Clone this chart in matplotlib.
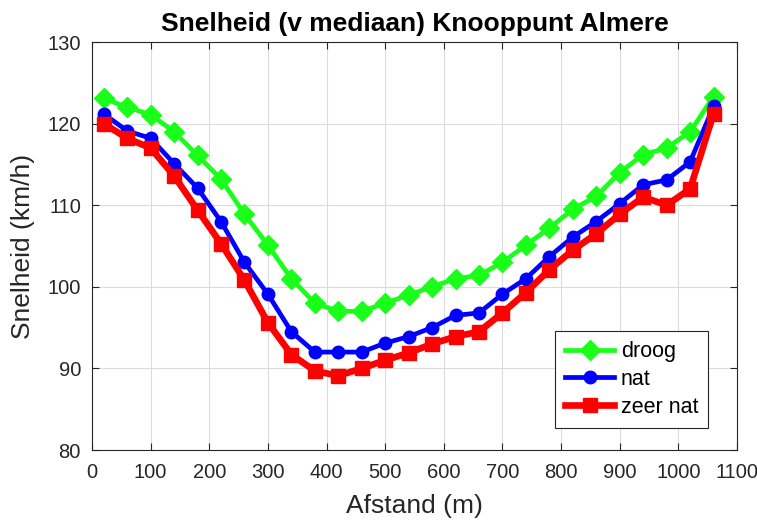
import matplotlib
matplotlib.use("Agg")
import matplotlib.pyplot as plt

plt.rcParams['font.family'] = ['Liberation Sans', 'DejaVu Sans']

# Afstand langs het knooppunt (m)
afstand = [20, 60, 100, 140, 180, 220, 260, 300, 340, 380, 420, 460, 500, 540,
           580, 620, 660, 700, 740, 780, 820, 860, 900, 940, 980, 1020, 1060]

# Mediane snelheid (km/h) per weersomstandigheid
droog = [123.1, 122.0, 121.1, 119.0, 116.1, 113.2, 108.9, 105.1, 101.0, 98.0,
         97.0, 97.0, 98.0, 99.0, 100.0, 101.0, 101.4, 103.0, 105.1, 107.2,
         109.5, 111.1, 114.0, 116.2, 117.0, 119.0, 123.3]
nat = [121.2, 119.1, 118.2, 115.1, 112.1, 108.0, 103.0, 99.1, 94.5, 92.0,
       92.0, 92.0, 93.1, 93.9, 95.0, 96.5, 96.8, 99.1, 101.0, 103.7,
       106.1, 108.0, 110.2, 112.5, 113.1, 115.3, 122.1]
zeer_nat = [120.0, 118.2, 117.0, 113.6, 109.4, 105.3, 100.8, 95.6, 91.7, 89.7,
            89.1, 90.0, 91.0, 91.9, 93.0, 93.9, 94.5, 96.8, 99.3, 102.1,
            104.5, 106.5, 108.9, 111.0, 110.0, 112.0, 121.2]

labels = ['droog', 'nat', 'zeer nat']
x_ticks = list(range(0, 1101, 100))
y_ticks = list(range(80, 131, 10))

fig = plt.figure(figsize=(7.57, 5.29), dpi=100)
ax = fig.add_axes([92 / 757, 1 - 450 / 529, (737 - 92) / 757, (450 - 42) / 529])

ax.plot(afstand, droog, color='#1aff1a', lw=3.4, marker='D', ms=10, label=labels[0])
ax.plot(afstand, nat, color='#0000ff', lw=3.4, marker='o', ms=9, label=labels[1])
ax.plot(afstand, zeer_nat, color='#ff0000', lw=4.8, marker='s', ms=10, label=labels[2])

ax.set_xlim(0, 1100)
ax.set_ylim(80, 130)
ax.set_xticks(x_ticks)
ax.set_yticks(y_ticks)
ax.grid(True, color='#dcdcdc', lw=0.8)
ax.set_axisbelow(True)
ax.tick_params(direction='in', top=True, right=True, length=5,
               labelsize=14.5, colors='#262626', width=0.8)
ax.tick_params(axis='x', pad=9)
ax.tick_params(axis='y', pad=8)
for s in ax.spines.values():
    s.set_color('#262626')
    s.set_linewidth(0.8)

ax.set_xlabel('Afstand (m)', fontsize=19, color='#262626', labelpad=9)
ax.set_ylabel('Snelheid (km/h)', fontsize=19, color='#262626', labelpad=9)
ax.set_title('Snelheid (v mediaan) Knooppunt Almere', fontsize=19,
             fontweight='bold', color='black', pad=8)

leg = ax.legend(loc='lower right', bbox_to_anchor=(0.955, 0.055), fontsize=15.5,
                fancybox=False, edgecolor='#262626', framealpha=1,
                handlelength=2.3, borderpad=0.45, labelspacing=0.32,
                handletextpad=0.3, borderaxespad=0.0)
leg.get_frame().set_linewidth(0.8)

fig.savefig('out.png', dpi=100)
